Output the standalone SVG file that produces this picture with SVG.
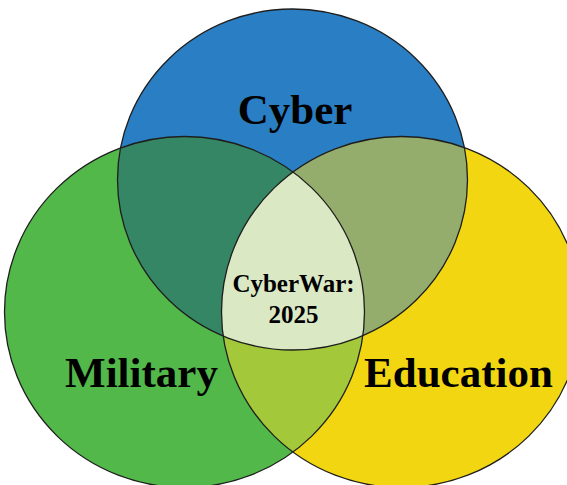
<svg xmlns="http://www.w3.org/2000/svg" width="567" height="485" viewBox="0 0 567 485">
  <style>
    .edge { fill: none; stroke: #1e1e1e; stroke-width: 1.3; }
    .lbl { font-family: "Liberation Serif", "Times New Roman", serif; font-weight: bold; fill: #000; text-anchor: middle; }
    .big { font-size: 43px; }
    .mid { font-size: 25px; }
  </style>
  <defs>
    <ellipse id="shapeCyber" cx="292.5" cy="179.5" rx="175" ry="170.5"/>
    <ellipse id="shapeMil" cx="184.5" cy="312" rx="180" ry="175.5"/>
    <ellipse id="shapeEdu" cx="401.5" cy="312" rx="180" ry="175.5"/>
    <clipPath id="clipCyber"><use href="#shapeCyber"/></clipPath>
    <clipPath id="clipMil"><use href="#shapeMil"/></clipPath>
  </defs>
  <rect width="567" height="485" fill="#ffffff"/>
  <g id="cyber">
    <use href="#shapeCyber" fill="#2a7fc4"/>
  </g>
  <g id="military">
    <use href="#shapeMil" fill="#52b84a"/>
  </g>
  <g id="education">
    <use href="#shapeEdu" fill="#f2d611"/>
  </g>
  <g id="overlaps">
    <g clip-path="url(#clipCyber)">
      <use href="#shapeMil" fill="#358665"/>
      <use href="#shapeEdu" fill="#95ad6c"/>
    </g>
    <g clip-path="url(#clipMil)">
      <use href="#shapeEdu" fill="#a3c83a"/>
    </g>
    <g clip-path="url(#clipCyber)">
      <g clip-path="url(#clipMil)">
        <use href="#shapeEdu" fill="#dae8c4"/>
      </g>
    </g>
  </g>
  <g id="connectors">
    <use href="#shapeCyber" class="edge"/>
    <use href="#shapeMil" class="edge"/>
    <use href="#shapeEdu" class="edge"/>
  </g>
  <g id="labels">
    <text class="lbl big" x="295" y="124">Cyber</text>
    <text class="lbl big" x="141.5" y="387">Military</text>
    <text class="lbl big" x="458.5" y="387">Education</text>
    <text class="lbl mid" x="293.5" y="292">CyberWar:</text>
    <text class="lbl mid" x="293.5" y="323">2025</text>
  </g>
</svg>
